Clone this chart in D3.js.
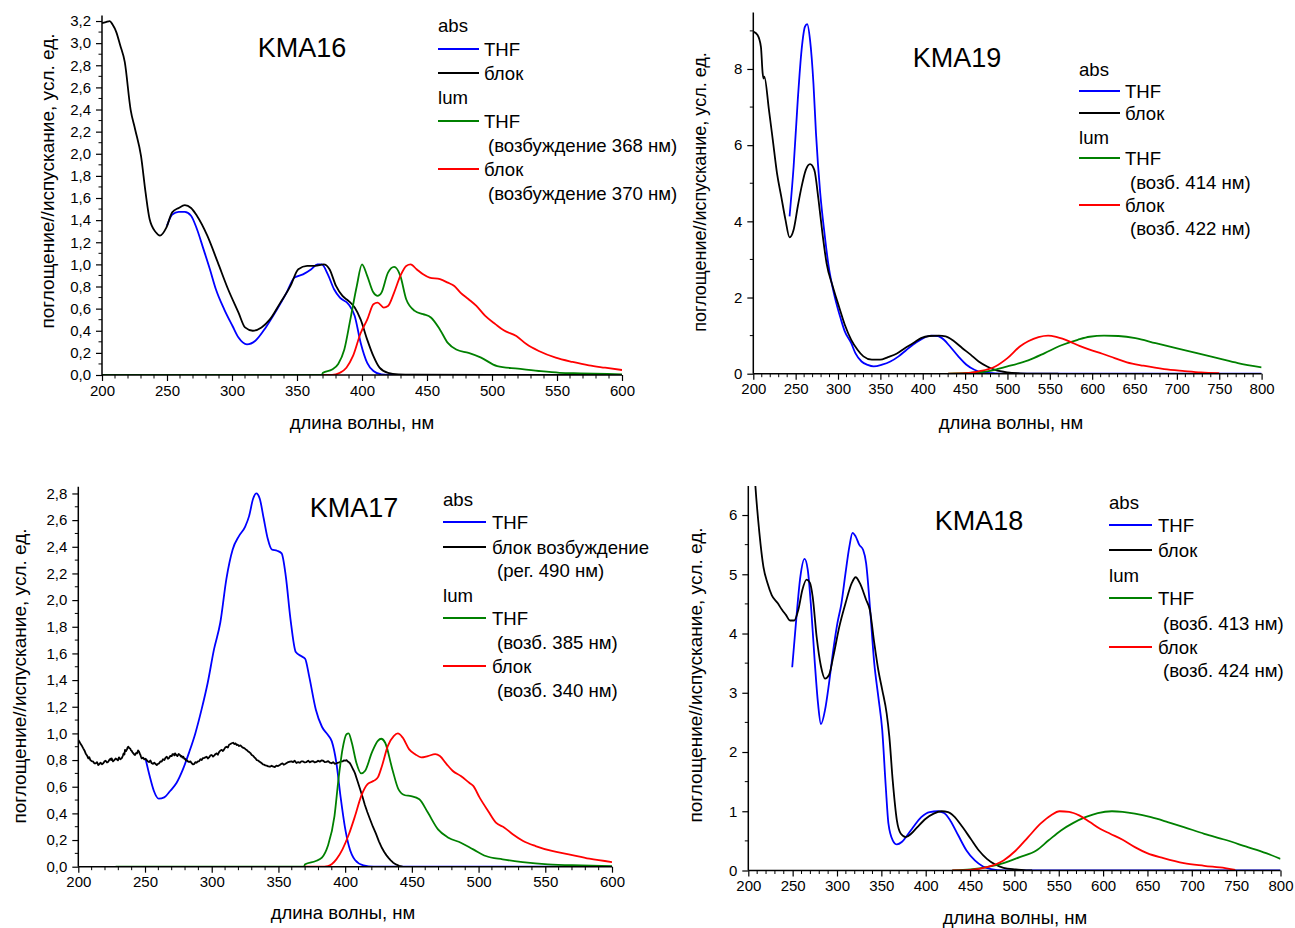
<!DOCTYPE html>
<html>
<head>
<meta charset="utf-8">
<script src="https://cdn.jsdelivr.net/npm/d3@7"></script>
<style>
  body { margin: 0; background: #fff; }
  svg { display: block; }
  text { font-family: "Liberation Sans", Arial, sans-serif; fill: #000; }
</style>
</head>
<body>
<svg id="chart" width="1295" height="928"></svg>
<script>
// ---------- tick values ----------
const xTicksShort = [200, 250, 300, 350, 400, 450, 500, 550, 600];
const xTicksLong = [200, 250, 300, 350, 400, 450, 500, 550, 600, 650, 700, 750, 800];
const yTicksKMA16 = [0, 0.2, 0.4, 0.6, 0.8, 1.0, 1.2, 1.4, 1.6, 1.8, 2.0, 2.2, 2.4, 2.6, 2.8, 3.0, 3.2];
const yTicksKMA19 = [0, 2, 4, 6, 8];
const yTicksKMA17 = [0, 0.2, 0.4, 0.6, 0.8, 1.0, 1.2, 1.4, 1.6, 1.8, 2.0, 2.2, 2.4, 2.6, 2.8];
const yTicksKMA18 = [0, 1, 2, 3, 4, 5, 6];

// ---------- KMA16 ----------
const kma16AbsTHF = [[250,1.35],[254,1.45],[259,1.475],[263.7,1.475],[268.5,1.44],[273,1.32],[278,1.14],[283,0.956],[287.6,0.775],[294,0.594],[300.4,0.443],[305,0.338],[311.5,0.277],[318,0.31],[326,0.43],[334,0.58],[342,0.745],[348,0.88],[354.6,0.91],[361,0.956],[365.7,1.0],[369,1.0],[373.7,0.91],[378.5,0.775],[383,0.70],[389.6,0.64],[394.4,0.534],[399,0.29],[404,0.11],[408.8,0.036],[415,0.006],[425,0],[500,0],[600,0]];
const kma16AbsBlock = [[200,3.18],[203,3.19],[206,3.2],[208,3.17],[211,3.10],[214,2.98],[217.5,2.83],[222,2.40],[225.5,2.22],[230,1.98],[233.5,1.65],[236.6,1.41],[241.4,1.29],[244.6,1.26],[249.4,1.33],[254,1.47],[259,1.51],[263.7,1.535],[268.5,1.51],[273,1.44],[281,1.26],[289,1.02],[297,0.775],[305,0.564],[310,0.43],[316,0.40],[322.7,0.43],[329,0.50],[337,0.65],[345,0.805],[351,0.956],[357.8,0.986],[364,0.986],[370.5,1.0],[375,0.956],[380,0.805],[385,0.715],[389.6,0.67],[394.4,0.61],[399,0.50],[404,0.32],[408.8,0.17],[413.5,0.066],[420,0.02],[428,0.006],[440,0.003],[500,0],[600,0]];
const kma16LumTHF = [[200,0],[369,0],[370,0.02],[377,0.05],[381.7,0.10],[386.4,0.23],[391,0.50],[396,0.805],[400,1.0],[404,0.896],[408.8,0.745],[412,0.715],[415,0.745],[420,0.926],[424.7,0.977],[429.5,0.896],[434,0.685],[440.6,0.58],[447,0.55],[453,0.52],[460,0.41],[466,0.29],[472.5,0.23],[482,0.20],[491.6,0.157],[504,0.08],[520,0.057],[536,0.036],[552,0.02],[568,0.015],[600,0.006]];
const kma16LumBlock = [[370,0],[377,0],[383,0.02],[388,0.066],[393,0.17],[399,0.38],[404,0.50],[408.8,0.64],[412,0.655],[416.7,0.61],[420,0.624],[424.7,0.745],[429.5,0.896],[434,0.986],[437.4,1.0],[442,0.956],[447,0.91],[452,0.88],[460,0.866],[466,0.835],[471,0.805],[475.7,0.745],[482,0.685],[488,0.624],[494.8,0.534],[502.8,0.458],[509,0.404],[518.7,0.353],[526.7,0.277],[536,0.217],[549,0.157],[562,0.118],[574.5,0.087],[587,0.066],[600,0.045]];

// ---------- KMA19 ----------
const kma19AbsTHF = [[242.8,4.13],[247.6,5.44],[252.5,7.19],[257,8.5],[261,9.11],[263.6,9.18],[267,8.76],[271,7.62],[274,6.31],[279,4.74],[284,3.69],[289,2.81],[296,2.03],[303.5,1.42],[308,1.11],[315.6,0.80],[320.5,0.54],[327.8,0.32],[335,0.23],[342,0.19],[352,0.236],[361.8,0.32],[371.5,0.455],[381,0.63],[391,0.80],[400.6,0.935],[410,1.0],[417.6,0.99],[425,0.89],[432,0.72],[442,0.455],[451.6,0.236],[461,0.105],[471,0.035],[485.6,0.01],[500,0],[650,0],[800,0]];
const kma19AbsBlock = [[200,8.98],[205,8.89],[209,8.58],[211,7.9],[212,7.75],[213,7.8],[218.5,6.92],[223,6.14],[228,5.26],[233,4.65],[238,4.04],[242.8,3.58],[247.6,3.78],[252.5,4.39],[257,4.91],[262,5.35],[267,5.5],[272,5.35],[277,4.56],[281.6,3.69],[286.5,2.90],[293.8,2.29],[301,1.77],[308,1.285],[315.6,0.89],[323,0.63],[330,0.455],[340,0.367],[349.6,0.367],[359,0.437],[369,0.524],[378.8,0.67],[388.5,0.80],[398,0.935],[408,0.99],[419,1.0],[427,0.98],[437,0.85],[446.8,0.67],[456.5,0.50],[466,0.32],[476,0.19],[485.6,0.10],[500,0.035],[515,0.01],[530,0],[560,0]];
const kma19LumTHF = [[430,0],[451.6,0.02],[476,0.06],[500,0.19],[524.5,0.35],[544,0.54],[563,0.74],[583,0.89],[597,0.97],[614,1.0],[631,0.99],[651,0.935],[675,0.80],[699,0.67],[723.7,0.54],[748,0.41],[772,0.28],[800,0.166]];
const kma19LumBlock = [[430,0],[447,0.005],[466,0.06],[485.6,0.19],[500,0.41],[515,0.72],[524.5,0.85],[536.7,0.96],[548,1.0],[558.5,0.96],[573,0.85],[585,0.73],[597,0.63],[612,0.524],[626.5,0.41],[641,0.30],[660.5,0.21],[685,0.12],[709,0.07],[728.5,0.035],[750,0.015]];

// ---------- KMA17 ----------
const kma17AbsTHF = [[250.4,0.81],[253.5,0.68],[256.6,0.57],[260.3,0.51],[264.4,0.52],[269,0.57],[273.7,0.63],[278.4,0.73],[283,0.856],[287.7,1.0],[292.4,1.18],[297,1.38],[301.7,1.63],[306.4,1.83],[311,2.16],[315.7,2.38],[320.4,2.48],[325,2.55],[328,2.63],[331,2.76],[333.4,2.80],[336,2.76],[339,2.61],[342,2.46],[345,2.38],[349,2.37],[352.4,2.35],[355.5,2.18],[359,1.86],[363,1.61],[367,1.58],[370,1.56],[373,1.43],[378,1.18],[382.6,1.05],[387,0.99],[390,0.94],[393.4,0.78],[396.5,0.53],[399.7,0.305],[402.8,0.155],[407.4,0.05],[413.7,0.01],[421.4,0],[500,0],[600,0]];
// excitation spectrum of the block film (measured, noisy)
const kma17ExcBlock = [[200,0.95],[201,0.935],[201.8,0.92],[202.8,0.905],[203.7,0.888],[204.6,0.872],[205.5,0.85],[206.5,0.835],[207.5,0.813],[208.2,0.822],[209,0.8],[210,0.792],[211.2,0.788],[212,0.776],[213,0.775],[214,0.784],[215,0.763],[215.9,0.772],[216.8,0.78],[217.7,0.768],[218.7,0.776],[219.6,0.79],[220.5,0.795],[221.5,0.782],[222.5,0.788],[223.3,0.802],[224,0.81],[224.6,0.8],[225,0.813],[226,0.79],[227,0.8],[228,0.812],[228.8,0.806],[229.7,0.798],[230.5,0.82],[231.5,0.806],[232.5,0.813],[233.3,0.83],[234,0.85],[234.6,0.842],[235,0.876],[235.8,0.868],[236.5,0.88],[237,0.895],[237.5,0.90],[238.2,0.89],[239,0.885],[239.5,0.872],[240,0.87],[240.6,0.858],[241.3,0.85],[241.9,0.842],[242.5,0.838],[243.2,0.852],[244,0.85],[244.8,0.872],[245.5,0.863],[246,0.85],[246.5,0.84],[247,0.826],[247.5,0.813],[248.5,0.818],[249.5,0.805],[250.4,0.81],[251.3,0.80],[252.2,0.79],[253,0.785],[254,0.797],[255,0.776],[256,0.772],[257,0.78],[257.9,0.77],[258.8,0.763],[259.7,0.772],[260.5,0.775],[261.5,0.79],[262.5,0.788],[263.5,0.806],[264.5,0.8],[265.4,0.818],[266.3,0.825],[267.2,0.81],[268,0.815],[269,0.832],[270,0.83],[270.6,0.845],[271.3,0.845],[272,0.835],[272.5,0.85],[273.4,0.838],[274.3,0.83],[275.2,0.845],[276.2,0.838],[276.9,0.826],[277.5,0.83],[278.1,0.818],[278.7,0.825],[279.4,0.81],[280,0.81],[280.6,0.797],[281.2,0.80],[282.1,0.79],[283,0.785],[284,0.79],[285,0.776],[285.9,0.768],[286.8,0.77],[287.7,0.784],[288.7,0.78],[289.6,0.79],[290.5,0.79],[291.5,0.806],[292.5,0.80],[293.4,0.815],[294.3,0.815],[295.2,0.82],[296.2,0.825],[297.1,0.812],[298,0.82],[299,0.835],[300,0.838],[301,0.826],[302,0.835],[302.9,0.846],[303.7,0.85],[304.6,0.84],[305.5,0.86],[306.5,0.872],[307.5,0.876],[308.4,0.868],[309.3,0.88],[310.2,0.895],[311.2,0.90],[312.1,0.894],[313,0.915],[314,0.92],[315,0.926],[316,0.93],[317,0.92],[317.9,0.925],[318.7,0.913],[319.6,0.915],[320.5,0.905],[321.5,0.91],[322.5,0.90],[323.4,0.893],[324.3,0.89],[325.3,0.882],[326.2,0.876],[327.1,0.866],[328,0.86],[329,0.852],[330,0.838],[331,0.832],[332,0.82],[332.9,0.812],[333.7,0.80],[334.6,0.798],[335.5,0.79],[336.5,0.784],[337.5,0.776],[338.4,0.768],[339.3,0.765],[340.2,0.76],[341.2,0.758],[342.4,0.752],[343.6,0.75],[344.9,0.758],[346.2,0.75],[347.3,0.748],[348.5,0.758],[349.7,0.755],[351,0.763],[352,0.77],[353,0.775],[354,0.765],[355,0.77],[356.8,0.782],[358.6,0.788],[359.8,0.79],[361,0.785],[362.2,0.795],[363.5,0.778],[364.8,0.785],[366,0.78],[367.2,0.79],[368.5,0.79],[369.7,0.782],[371,0.785],[372.3,0.795],[373.6,0.783],[374.8,0.79],[376,0.792],[377.2,0.782],[378.5,0.786],[379.7,0.795],[381,0.788],[382.2,0.797],[383.5,0.795],[384.7,0.785],[386,0.786],[387.3,0.792],[388.6,0.78],[389.8,0.776],[391,0.784],[392.3,0.772],[393.6,0.776],[394.8,0.78],[396,0.785],[397,0.79],[398,0.79],[399,0.797],[400,0.795],[401,0.8],[401.8,0.79],[402.7,0.785],[403.6,0.776],[404.5,0.76],[405.5,0.74],[406.5,0.72],[407.4,0.70],[409,0.65],[411,0.588],[413,0.525],[414.8,0.463],[416.6,0.41],[418.5,0.36],[420.8,0.3],[423,0.25],[425.3,0.19],[427.6,0.14],[429.3,0.11],[431,0.085],[432.5,0.066],[434,0.05],[436,0.03],[438.5,0.015],[440.5,0.007],[443,0]];
const kma17LumTHF = [[228,0],[369,0],[370,0.018],[378,0.043],[382.6,0.068],[387,0.155],[392,0.38],[395,0.656],[398,0.88],[401,0.994],[402.6,1.0],[405,0.93],[408.4,0.78],[412,0.70],[415,0.72],[420,0.856],[424.5,0.944],[427,0.96],[430,0.93],[435.4,0.73],[440,0.58],[444.8,0.536],[449.4,0.53],[455.6,0.506],[462,0.406],[469.6,0.28],[477.4,0.218],[486.7,0.18],[496,0.13],[505.4,0.08],[518,0.055],[533,0.035],[552,0.018],[577,0.01],[600,0.005]];
const kma17LumBlock = [[370,0],[382,0],[387,0.005],[393.4,0.055],[398,0.13],[402.8,0.243],[407.4,0.38],[412,0.53],[416.8,0.62],[421.4,0.644],[424.5,0.67],[427.6,0.756],[432,0.906],[436.4,0.98],[439.5,1.0],[443,0.97],[448,0.88],[452.5,0.844],[457,0.82],[462,0.83],[467.5,0.844],[471,0.83],[476,0.77],[480.5,0.72],[486.7,0.68],[493,0.63],[496,0.606],[500.7,0.52],[507,0.42],[513,0.33],[519.4,0.293],[525.6,0.243],[533.4,0.193],[542.7,0.155],[555,0.118],[567.6,0.093],[583,0.06],[600,0.035]];

// ---------- KMA18 ----------
const kma18AbsTHF = [[249.5,3.43],[254,4.23],[258.7,4.96],[263.4,5.26],[267,5.08],[271,4.40],[275,3.50],[278.6,2.82],[281.9,2.47],[286.5,2.71],[291,3.16],[295.8,3.72],[300.4,4.17],[305,4.51],[309.6,5.02],[314,5.47],[317.5,5.70],[321,5.64],[325,5.50],[329.5,5.41],[332.8,5.19],[337.4,4.40],[342,3.50],[346.6,2.93],[351,2.37],[355,1.41],[358,0.79],[362.8,0.51],[367.5,0.44],[373,0.48],[379,0.59],[386,0.733],[395,0.90],[404.5,0.987],[413.7,1.0],[420.7,0.97],[427.6,0.846],[436.8,0.59],[446,0.338],[455.4,0.17],[464.6,0.068],[473.8,0.023],[487.7,0],[600,0],[800,0]];
const kma18AbsBlock = [[200,8.6],[204,7.5],[207.9,6.51],[212.5,5.70],[217,5.13],[221.7,4.85],[226.4,4.65],[233.3,4.51],[238,4.40],[242.6,4.31],[247,4.22],[251.8,4.22],[256.4,4.40],[261,4.74],[265.7,4.91],[269.4,4.86],[272.6,4.62],[277,3.95],[282,3.44],[286.5,3.24],[291,3.30],[295.8,3.61],[302.7,4.12],[309.6,4.51],[316.6,4.85],[321,4.95],[325.8,4.85],[332.8,4.57],[337,4.40],[342,3.84],[346.6,3.38],[351,3.05],[356,2.65],[359,2.26],[362.8,1.52],[367.5,0.846],[372,0.62],[377.6,0.564],[383.6,0.62],[390.6,0.733],[400,0.874],[409,0.96],[418,1.0],[425.3,0.987],[432,0.914],[441.5,0.733],[450.7,0.536],[460,0.338],[469,0.197],[478.5,0.10],[487.7,0.045],[501.6,0.017],[515.5,0],[520,0]];
const kma18LumTHF = [[430,0],[450.7,0.017],[469,0.056],[487.7,0.124],[506,0.226],[524.7,0.338],[538.6,0.51],[552.5,0.677],[566,0.80],[580,0.90],[594,0.97],[610,1.0],[622,0.99],[635.8,0.96],[654,0.90],[672.8,0.818],[691,0.733],[714,0.62],[737.5,0.519],[760.7,0.406],[783.8,0.293],[800,0.197]];
const kma18LumBlock = [[430,0],[450.7,0.011],[469,0.056],[487.7,0.17],[501.6,0.338],[515.5,0.564],[529.4,0.79],[541,0.93],[551,1.0],[561.7,0.99],[573,0.93],[585,0.818],[596.5,0.705],[608,0.62],[622,0.519],[635.8,0.395],[649.6,0.293],[668,0.209],[691,0.124],[714,0.079],[737.5,0.04],[749,0.011]];

// ---------- colours ----------
const BLUE = "#0000ff", BLACK = "#000000", GREEN = "#008000", RED = "#ff0000";

const commaFmt = v => d3.format(".1f")(v).replace(".", ",");
const intFmt = v => d3.format("d")(v);

// Panel layout (pixel frames, fonts, legend placement)
const panels = [
  {
    title: "KMA16", titlePos: [302, 57],
    xDomain: [200, 600], xRange: [102, 622], xTicks: xTicksShort,
    yDomain: [0, 3.25], yRange: [375, 15.5], yTicks: yTicksKMA16, yMinor: 0.1, yFmt: commaFmt,
    xTitlePos: [362, 429], yTitlePos: [47, 181], yTitleSize: 19,
    series: [
      { data: kma16AbsTHF, color: BLUE },
      { data: kma16AbsBlock, color: BLACK },
      { data: kma16LumTHF, color: GREEN },
      { data: kma16LumBlock, color: RED }
    ],
    legend: { x: 438, lineEnd: 479, textX: 484, subX: 488, rows: [
      { y: 25, text: "abs" },
      { y: 49, text: "THF", color: BLUE },
      { y: 73, text: "блок", color: BLACK },
      { y: 97, text: "lum" },
      { y: 121, text: "THF", color: GREEN },
      { y: 145, text: "(возбуждение 368 нм)", sub: true },
      { y: 169, text: "блок", color: RED },
      { y: 193, text: "(возбуждение 370 нм)", sub: true }
    ] }
  },
  {
    title: "KMA19", titlePos: [957, 67],
    xDomain: [200, 800], xRange: [753.3, 1261.6], xTicks: xTicksLong,
    yDomain: [0, 9.48], yRange: [373.7, 12.6], yTicks: yTicksKMA19, yMinor: 1, yFmt: intFmt,
    xTitlePos: [1011, 429], yTitlePos: [700, 192], yTitleSize: 18,
    series: [
      { data: kma19AbsTHF, color: BLUE },
      { data: kma19AbsBlock, color: BLACK },
      { data: kma19LumTHF, color: GREEN },
      { data: kma19LumBlock, color: RED }
    ],
    legend: { x: 1079, lineEnd: 1120, textX: 1125, subX: 1130, rows: [
      { y: 69, text: "abs" },
      { y: 91, text: "THF", color: BLUE },
      { y: 113, text: "блок", color: BLACK },
      { y: 137, text: "lum" },
      { y: 158, text: "THF", color: GREEN },
      { y: 182, text: "(возб. 414 нм)", sub: true },
      { y: 205, text: "блок", color: RED },
      { y: 228, text: "(возб. 422 нм)", sub: true }
    ] }
  },
  {
    title: "KMA17", titlePos: [354, 517],
    xDomain: [200, 600], xRange: [78.3, 612], xTicks: xTicksShort,
    yDomain: [0, 2.85], yRange: [866.7, 486.8], yTicks: yTicksKMA17, yMinor: 0.1, yFmt: commaFmt,
    xTitlePos: [343, 919], yTitlePos: [19, 676], yTitleSize: 19,
    series: [
      { data: kma17AbsTHF, color: BLUE },
      { data: kma17ExcBlock, color: BLACK, raw: true },
      { data: kma17LumTHF, color: GREEN },
      { data: kma17LumBlock, color: RED }
    ],
    legend: { x: 443, lineEnd: 486, textX: 492, subX: 497, rows: [
      { y: 499, text: "abs" },
      { y: 522, text: "THF", color: BLUE },
      { y: 547, text: "блок возбуждение", color: BLACK },
      { y: 570, text: "(рег. 490 нм)", sub: true },
      { y: 595, text: "lum" },
      { y: 618, text: "THF", color: GREEN },
      { y: 642, text: "(возб. 385 нм)", sub: true },
      { y: 666, text: "блок", color: RED },
      { y: 690, text: "(возб. 340 нм)", sub: true }
    ] }
  },
  {
    title: "KMA18", titlePos: [979, 530],
    xDomain: [200, 800], xRange: [748.3, 1280.5], xTicks: xTicksLong,
    yDomain: [0, 6.49], yRange: [870.5, 486], yTicks: yTicksKMA18, yMinor: 0.5, yFmt: intFmt,
    xTitlePos: [1015, 924], yTitlePos: [695, 675], yTitleSize: 19,
    series: [
      { data: kma18AbsTHF, color: BLUE },
      { data: kma18AbsBlock, color: BLACK },
      { data: kma18LumTHF, color: GREEN },
      { data: kma18LumBlock, color: RED }
    ],
    legend: { x: 1109, lineEnd: 1152, textX: 1158, subX: 1163, rows: [
      { y: 502, text: "abs" },
      { y: 525, text: "THF", color: BLUE },
      { y: 550, text: "блок", color: BLACK },
      { y: 575, text: "lum" },
      { y: 598, text: "THF", color: GREEN },
      { y: 623, text: "(возб. 413 нм)", sub: true },
      { y: 647, text: "блок", color: RED },
      { y: 670, text: "(возб. 424 нм)", sub: true }
    ] }
  }
];

const svg = d3.select("#chart");
const TICK_FONT = 15, LEGEND_FONT = 18.6, AXIS_TITLE_FONT = 18.5, TITLE_FONT = 27;

panels.forEach((p, i) => {
  const g = svg.append("g");
  const x = d3.scaleLinear().domain(p.xDomain).range(p.xRange);
  const y = d3.scaleLinear().domain(p.yDomain).range(p.yRange);

  // clip to the plot frame
  const clipId = "clip" + i;
  svg.append("clipPath").attr("id", clipId).append("rect")
    .attr("x", p.xRange[0]).attr("y", p.yRange[1])
    .attr("width", p.xRange[1] - p.xRange[0]).attr("height", p.yRange[0] - p.yRange[1]);

  // curves
  const plot = g.append("g").attr("clip-path", `url(#${clipId})`);
  p.series.forEach(s => {
    const line = d3.line().x(d => x(d[0])).y(d => y(d[1]))
      .curve(s.raw ? d3.curveLinear : d3.curveMonotoneX);
    plot.append("path").datum(s.data)
      .attr("d", line).attr("fill", "none")
      .attr("stroke", s.color).attr("stroke-width", 1.8)
      .attr("stroke-linejoin", "round");
  });

  // minor ticks
  const xMinor = d3.range(p.xDomain[0], p.xDomain[1] + 0.001, 10).filter(v => v % 50 !== 0);
  const yMinor = d3.range(0, p.yDomain[1] + 1e-6, p.yMinor)
    .filter(v => !p.yTicks.some(t => Math.abs(t - v) < 1e-6));

  const xAxis = g.append("g").attr("transform", `translate(0,${p.yRange[0]})`)
    .call(d3.axisBottom(x).tickValues(p.xTicks).tickSize(6).tickPadding(4).tickFormat(intFmt));
  xAxis.select(".domain").attr("d", `M${p.xRange[0]},0H${p.xRange[1]}`);
  xAxis.selectAll("text").attr("font-size", TICK_FONT).attr("font-family", null);
  xAxis.append("g").selectAll("line").data(xMinor).join("line")
    .attr("x1", d => x(d)).attr("x2", d => x(d)).attr("y1", 0).attr("y2", 3.5)
    .attr("stroke", "#000");

  const yAxis = g.append("g").attr("transform", `translate(${p.xRange[0]},0)`)
    .call(d3.axisLeft(y).tickValues(p.yTicks).tickSize(6).tickPadding(5).tickFormat(p.yFmt));
  yAxis.select(".domain").attr("d", `M0,${p.yRange[0]}V${p.yRange[1]}`);
  yAxis.selectAll("text").attr("font-size", TICK_FONT).attr("font-family", null);
  yAxis.append("g").selectAll("line").data(yMinor).join("line")
    .attr("y1", d => y(d)).attr("y2", d => y(d)).attr("x1", 0).attr("x2", -3.5)
    .attr("stroke", "#000");

  g.selectAll(".domain").attr("stroke-width", 1.5);
  g.selectAll(".tick line").attr("stroke-width", 1.2);

  // axis titles
  g.append("text").attr("x", p.xTitlePos[0]).attr("y", p.xTitlePos[1])
    .attr("text-anchor", "middle").attr("font-size", AXIS_TITLE_FONT)
    .text("длина волны, нм");
  g.append("text")
    .attr("transform", `translate(${p.yTitlePos[0]},${p.yTitlePos[1]}) rotate(-90)`)
    .attr("text-anchor", "middle").attr("dominant-baseline", "central")
    .attr("font-size", p.yTitleSize)
    .text("поглощение//испускание, усл. ед.");

  // panel title
  g.append("text").attr("x", p.titlePos[0]).attr("y", p.titlePos[1])
    .attr("text-anchor", "middle").attr("font-size", TITLE_FONT).text(p.title);

  // legend
  const L = p.legend;
  const lg = g.append("g");
  L.rows.forEach(r => {
    if (r.color) {
      lg.append("line").attr("x1", L.x).attr("x2", L.lineEnd).attr("y1", r.y).attr("y2", r.y)
        .attr("stroke", r.color).attr("stroke-width", 2);
    }
    const tx = r.color ? L.textX : (r.sub ? L.subX : L.x);
    lg.append("text").attr("x", tx).attr("y", r.y)
      .attr("dominant-baseline", "central").attr("font-size", LEGEND_FONT).text(r.text);
  });
});
</script>
</body>
</html>
